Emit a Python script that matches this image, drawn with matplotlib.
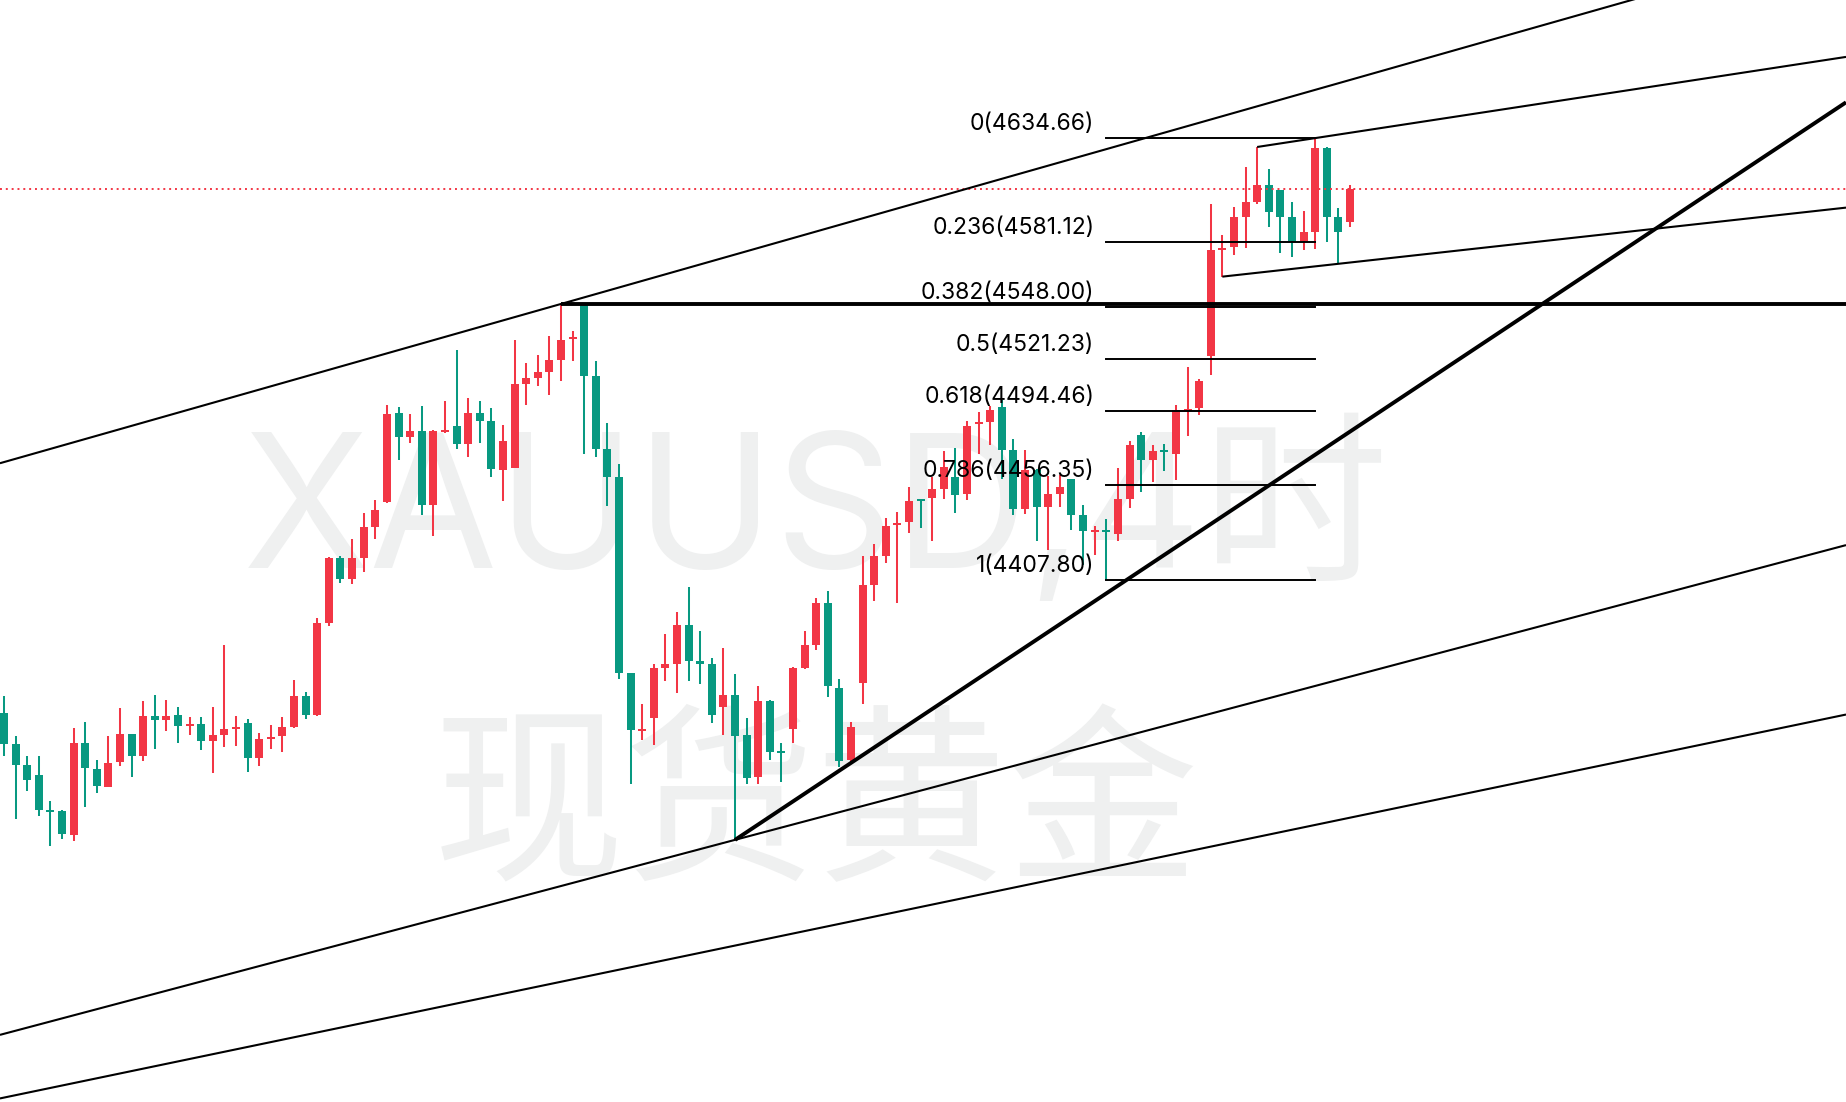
import matplotlib
matplotlib.use("Agg")
import matplotlib.pyplot as plt
import numpy as np

# ---------------- data (XAUUSD 4H candles) ----------------
opens = [4339.6, 4323.7, 4312.9, 4307.8, 4289.8, 4289.3, 4277.2, 4324.2, 4310.9, 4301.8,
         4314.6, 4328.8, 4317.7, 4338.1, 4336.2, 4338.6, 4333.1, 4334.0, 4325.4, 4328.5,
         4331.5, 4334.5, 4316.7, 4326.4, 4327.8, 4332.4, 4348.3, 4338.6, 4385.8, 4419.1,
         4408.5, 4419.1, 4435.0, 4447.8, 4493.5, 4481.3, 4484.2, 4446.4, 4483.9, 4486.8,
         4477.7, 4493.5, 4489.4, 4464.4, 4465.4, 4508.5, 4511.6, 4514.6, 4520.8, 4531.3,
         4549.2, 4512.4, 4475.0, 4460.6, 4360.1, 4330.6, 4337.2, 4362.8, 4364.9, 4384.7,
         4366.3, 4364.7, 4342.8, 4348.8, 4328.3, 4306.9, 4345.8, 4319.7, 4331.5, 4362.8,
         4374.6, 4396.0, 4352.4, 4315.6, 4355.1, 4405.4, 4420.3, 4435.9, 4437.7, 4449.0,
         4450.0, 4454.6, 4460.6, 4452.1, 4487.6, 4488.7, 4496.5, 4474.5, 4444.4, 4464.2,
         4445.4, 4451.9, 4459.4, 4441.3, 4432.3, 4432.7, 4431.6, 4449.5, 4482.2, 4469.5,
         4474.0, 4472.6, 4494.6, 4496.2, 4522.9, 4577.2, 4578.8, 4594.1, 4601.8, 4610.4,
         4607.8, 4594.0, 4581.8, 4586.5, 4629.4, 4594.0, 4591.6]
highs = [4348.3, 4327.8, 4317.5, 4317.5, 4294.5, 4290.0, 4331.9, 4335.0, 4315.5, 4327.8,
         4342.2, 4329.0, 4345.8, 4348.8, 4346.3, 4342.7, 4337.5, 4337.5, 4342.7, 4374.5,
         4338.1, 4336.5, 4329.3, 4333.4, 4337.5, 4356.5, 4350.4, 4388.3, 4419.6, 4420.1,
         4428.8, 4442.2, 4448.8, 4497.6, 4496.5, 4492.9, 4497.1, 4484.7, 4499.6, 4525.8,
         4501.2, 4499.6, 4496.0, 4487.3, 4530.9, 4519.1, 4523.2, 4533.0, 4549.4, 4535.5,
         4549.4, 4520.1, 4488.3, 4467.3, 4360.3, 4344.2, 4364.7, 4380.1, 4391.4, 4404.2,
         4381.7, 4367.8, 4372.9, 4359.6, 4337.0, 4353.4, 4346.3, 4324.2, 4363.2, 4381.7,
         4398.6, 4402.2, 4357.0, 4335.0, 4420.1, 4426.3, 4439.6, 4442.7, 4455.5, 4449.4,
         4460.6, 4474.0, 4475.5, 4489.4, 4494.0, 4497.1, 4500.1, 4480.1, 4474.5, 4464.7,
         4461.2, 4461.7, 4459.6, 4446.3, 4435.5, 4439.1, 4465.3, 4479.1, 4483.7, 4477.1,
         4477.6, 4497.6, 4517.1, 4510.9, 4600.7, 4584.8, 4599.1, 4619.6, 4629.9, 4618.6,
         4608.0, 4601.7, 4597.1, 4634.66, 4629.9, 4598.6, 4610.4]
lows = [4317.5, 4285.4, 4299.7, 4286.9, 4271.5, 4275.1, 4274.1, 4291.5, 4298.7, 4301.5,
        4312.6, 4306.9, 4315.1, 4321.3, 4330.5, 4324.4, 4328.5, 4320.8, 4309.0, 4322.3,
        4322.7, 4309.5, 4312.6, 4321.1, 4319.6, 4331.9, 4336.7, 4338.1, 4384.2, 4406.4,
        4405.9, 4412.1, 4428.8, 4447.5, 4469.5, 4478.2, 4441.3, 4430.5, 4483.4, 4475.2,
        4471.1, 4478.2, 4460.8, 4448.5, 4465.2, 4497.7, 4507.3, 4502.9, 4510.0, 4520.3,
        4472.6, 4471.1, 4445.9, 4357.2, 4303.3, 4325.9, 4323.3, 4356.2, 4350.0, 4356.2,
        4354.6, 4334.6, 4328.5, 4274.5, 4303.3, 4303.3, 4315.6, 4304.4, 4324.4, 4362.3,
        4372.1, 4348.0, 4312.1, 4314.5, 4344.1, 4397.2, 4416.7, 4396.2, 4432.1, 4434.6,
        4428.0, 4449.5, 4442.3, 4449.0, 4472.4, 4477.1, 4459.6, 4441.3, 4441.8, 4428.0,
        4423.4, 4445.4, 4433.6, 4415.7, 4420.8, 4407.8, 4428.0, 4444.9, 4453.1, 4458.2,
        4463.9, 4459.3, 4481.8, 4492.6, 4513.1, 4563.4, 4574.7, 4578.3, 4600.8, 4589.0,
        4575.7, 4573.6, 4577.2, 4577.7, 4581.3, 4570.2, 4589.0]
closes = [4323.9, 4313.1, 4305.4, 4290.0, 4289.0, 4277.7, 4324.2, 4311.5, 4302.3, 4313.9,
          4328.8, 4317.7, 4338.1, 4336.2, 4338.1, 4333.1, 4334.0, 4325.4, 4328.3, 4331.4,
          4332.6, 4316.7, 4326.3, 4327.4, 4332.4, 4348.3, 4338.6, 4385.8, 4419.1, 4408.5,
          4419.1, 4435.0, 4443.7, 4492.9, 4481.3, 4484.2, 4446.4, 4484.2, 4484.7, 4477.7,
          4493.5, 4489.5, 4464.9, 4479.1, 4508.3, 4511.4, 4514.5, 4520.6, 4530.9, 4531.9,
          4512.6, 4475.2, 4460.8, 4360.3, 4331.0, 4331.1, 4362.7, 4364.7, 4384.7, 4366.4,
          4364.9, 4338.7, 4348.8, 4327.9, 4306.4, 4345.8, 4319.7, 4318.9, 4362.7, 4374.5,
          4396.0, 4353.6, 4315.1, 4332.4, 4405.2, 4420.1, 4435.7, 4436.5, 4448.3, 4448.5,
          4454.5, 4465.8, 4451.6, 4486.8, 4488.3, 4494.9, 4474.5, 4444.4, 4464.2, 4445.4,
          4451.9, 4455.5, 4441.3, 4433.1, 4432.9, 4432.2, 4449.4, 4477.1, 4469.5, 4474.0,
          4473.3, 4495.0, 4495.7, 4509.9, 4577.1, 4578.1, 4594.0, 4601.7, 4610.4, 4596.7,
          4594.1, 4581.3, 4586.3, 4629.4, 4594.1, 4586.5, 4608.3]

# Fibonacci retracement (from candle 95 low to candle 113 high)
fib_ratios = ["0", "0.236", "0.382", "0.5", "0.618", "0.786", "1"]
fib_prices = [4634.66, 4581.12, 4548.00, 4521.23, 4494.46, 4456.35, 4407.80]
fib_start, fib_end = 95, 113

# Drawn trend lines: (x0, p0, x1, p1, width)
trendlines = [
    (-0.35, 4467.7, 158.75, 4736.5, 1.5),   # upper channel
    (-0.35, 4174.5, 158.75, 4425.7, 1.5),   # lower channel
    (-0.35, 4141.9, 158.75, 4338.8, 1.5),   # bottom line
    (63, 4274.5, 158.75, 4652.8, 2.8),      # rising support (thick)
    (48, 4549.6, 158.75, 4549.6, 2.8),      # horizontal resistance (thick)
    (108, 4629.9, 158.75, 4676.1, 1.5),     # small channel top
    (105, 4563.4, 158.75, 4598.8, 1.5),     # small channel bottom
]

watermark_1 = "XAUUSD,4时"
watermark_2 = "现货黄金"

UP = "#F23645"
DOWN = "#089981"

# ---------------- figure ----------------
fig = plt.figure(figsize=(18.46, 11.02), dpi=100)
ax = fig.add_axes([0, 0, 1, 1])
ax.set_xlim(-0.345, 158.75)
ax.set_ylim(4140.07, 4705.29)
ax.axis("off")

# watermark
ax.text(0.442, 0.4846, watermark_1, transform=ax.transAxes, ha="center", va="baseline",
        fontsize=134, color="#eff0f0", family=["Inter", "Noto Sans CJK SC"], zorder=0)
ax.text(0.442, 0.264, watermark_2, transform=ax.transAxes, ha="center", va="center",
        fontsize=138, color="#eff0f0", family=["Noto Sans CJK SC"], zorder=0)

o = np.array(opens); h = np.array(highs); l = np.array(lows); c = np.array(closes)
x = np.arange(len(o))
cols = np.where(c >= o, UP, DOWN)
ax.vlines(x, l, h, colors=cols, linewidth=1.45, zorder=2)
bottom = np.minimum(o, c)
height = np.maximum(np.abs(c - o), 1.0)
ax.bar(x, height, bottom=bottom, width=0.69, color=cols, linewidth=0, zorder=3)

# current price dotted line
ax.axhline(closes[-1], color=UP, linestyle=(0, (1, 2)), linewidth=1.4, zorder=4)

# trend lines
for x0, p0, x1, p1, lw in trendlines:
    ax.plot([x0, x1], [p0, p1], color="black", linewidth=lw, solid_capstyle="butt", zorder=5)

# fibonacci
for r, p in zip(fib_ratios, fib_prices):
    ax.plot([fib_start, fib_end], [p, p], color="black", linewidth=1.4, zorder=5)
    ax.annotate(f"{r}({p:.2f})", xy=(fib_start, p), xytext=(-12, 8),
                textcoords="offset pixels", ha="right", va="baseline",
                fontsize=16.5, family=["Inter", "DejaVu Sans"], color="black", zorder=6)

fig.savefig("out.png", dpi=100)
